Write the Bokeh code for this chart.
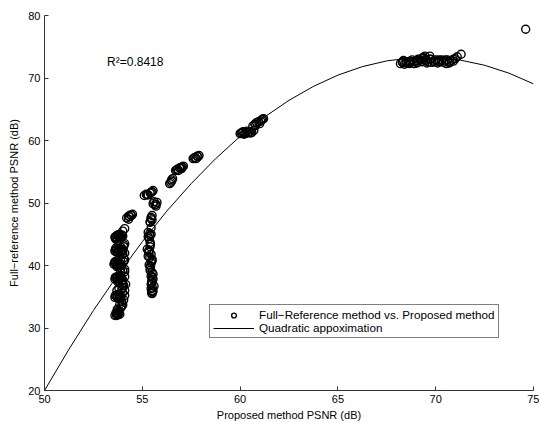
from bokeh.plotting import figure
from bokeh.models import Range1d, Label, Legend, LegendItem, FixedTicker
from bokeh.embed import file_html
from bokeh.resources import INLINE

# Scatter data: proposed method PSNR (x) vs full-reference PSNR (y)
proposed_psnr = [
    # cluster near 53.7
    53.6, 53.7, 53.8, 53.9, 54.0, 53.65, 53.85,
    53.6, 53.7, 53.8, 53.9, 54.0, 53.75, 53.65, 54.1,
    53.55, 53.65, 53.75, 53.85, 53.95, 54.05, 53.7, 54.1,
    53.6, 53.7, 53.8, 53.9, 54.0, 54.1, 53.75, 54.05,
    53.6, 53.7, 53.8, 53.9, 54.0, 54.1, 53.95,
    53.6, 53.7, 53.8, 53.9, 54.0, 53.75,
    54.1, 54.05, 54.1, 54.15, 54.1, 54.05, 54.0, 54.1, 54.0,
    53.65, 53.75, 53.85, 53.95, 53.7, 53.8, 53.9, 54.0, 53.6, 53.7,
    53.8, 53.9, 53.65, 53.75, 53.85, 53.95, 53.7, 53.8, 53.9, 53.65,
    53.75, 53.85, 53.7, 53.8, 53.9, 54.0, 54.05, 54.1, 53.95, 54.0,
    53.62, 53.72, 53.82, 53.92, 53.62, 53.72, 53.82, 53.92, 53.58, 53.68,
    53.78, 53.88, 53.62, 53.72, 53.82, 53.92, 53.62, 53.72, 53.82, 53.68,
    53.78, 53.72, 53.85, 53.95, 54.0, 53.9, 54.05,
    54.2, 54.3, 54.4, 54.5, 54.3, 54.35, 54.45,
    # cluster near 55.5
    55.5, 55.55, 55.45, 55.6, 55.5, 55.55, 55.45, 55.5, 55.4, 55.35,
    55.45, 55.5, 55.3, 55.35, 55.25, 55.4, 55.35, 55.4, 55.3, 55.45,
    55.4, 55.5, 55.45, 55.65, 55.75, 55.7,
    55.5, 55.45, 55.55, 55.4, 55.5, 55.45, 55.4, 55.35, 55.45, 55.3,
    55.4, 55.5, 55.55, 55.6, 55.5,
    55.48, 55.52, 55.48, 55.52, 55.42, 55.48, 55.38, 55.32, 55.42, 55.38,
    55.45, 55.7,
    55.1, 55.2, 55.3, 55.4, 55.5, 55.55, 55.25, 55.45,
    # rising groups
    56.4, 56.5, 56.55, 56.45, 56.5,
    56.7, 56.8, 56.9, 57.0, 57.1, 56.85, 57.0, 56.75, 56.95, 57.05,
    57.6, 57.7, 57.8, 57.9, 57.75, 57.65, 57.85,
    60.0, 60.1, 60.2, 60.3, 60.4, 60.5, 60.6, 60.7, 60.35, 60.15,
    60.05, 60.25, 60.45, 60.55,
    60.65, 60.75, 60.85, 60.95, 61.0, 61.1, 61.2, 61.05, 60.8, 61.15,
    # cluster near 70
    68.2, 68.3, 68.4, 68.5, 68.6, 68.7, 68.8, 68.9, 69.0, 69.1,
    69.2, 69.3, 69.4, 69.5, 69.6, 69.7, 69.8, 69.9, 70.0, 70.1,
    70.2, 70.3, 70.4, 70.5, 70.6, 70.7, 70.8, 70.9, 71.0, 71.1,
    71.3, 68.35, 68.65, 69.05, 69.45, 69.75, 70.15, 70.55,
    68.3, 68.5, 68.7, 68.9, 69.1, 69.3, 69.5, 69.7, 69.9, 70.1,
    70.3, 70.5, 70.7, 70.9, 69.35, 69.55,
    # outlier
    74.6,
]
fullref_psnr = [
    44.5, 44.8, 44.6, 44.4, 44.7, 44.2, 45.0,
    42.3, 42.6, 42.4, 42.2, 42.6, 42.0, 42.8, 42.0,
    40.2, 40.5, 40.1, 40.4, 40.0, 40.6, 39.8, 39.4,
    37.8, 38.2, 37.9, 38.4, 37.7, 38.2, 37.4, 36.8,
    34.9, 35.3, 34.7, 35.1, 35.6, 36.0, 34.2,
    32.0, 32.3, 32.6, 33.2, 33.7, 32.1,
    43.5, 41.2, 39.0, 37.0, 35.2, 34.5, 41.8, 45.9, 45.5,
    44.3, 44.9, 44.5, 44.9, 42.1, 42.5, 42.9, 42.3, 40.6, 40.0,
    40.3, 40.7, 38.0, 37.6, 38.1, 37.5, 35.0, 35.4, 34.8, 32.4,
    32.8, 32.2, 36.0, 36.4, 39.0, 39.2, 43.0, 40.9, 33.5, 36.5,
    44.6, 44.4, 44.9, 44.6, 42.5, 42.2, 42.7, 42.5, 40.4, 40.2,
    40.5, 40.2, 38.1, 37.9, 38.3, 38.0, 35.2, 34.9, 35.1, 32.0,
    32.3, 33.0, 33.8, 36.2, 37.2, 39.6, 43.3,
    47.6, 47.9, 48.1, 48.2, 47.4, 47.8, 48.0,
    35.5, 35.9, 36.3, 36.7, 37.2, 37.8, 38.3, 38.9, 39.6, 40.1,
    40.4, 40.8, 41.5, 42.1, 42.6, 43.0, 44.3, 44.8, 45.3, 45.0,
    46.9, 47.3, 47.7, 49.7, 50.1, 49.5,
    36.0, 37.0, 38.6, 39.2, 41.0, 41.8, 43.7, 42.4, 46.0, 44.6,
    47.0, 48.0, 49.9, 50.2, 35.8,
    35.6, 36.4, 37.5, 38.1, 39.9, 40.6, 41.3, 42.3, 43.4, 45.1,
    47.5, 49.8,
    51.2, 51.4, 51.3, 51.6, 51.8, 52.0, 51.3, 51.7,
    53.1, 53.5, 53.9, 53.3, 53.7,
    55.2, 55.4, 55.6, 55.7, 55.9, 55.2, 55.5, 55.3, 55.6, 55.8,
    57.1, 57.3, 57.5, 57.6, 57.1, 57.2, 57.4,
    61.1, 61.2, 61.0, 61.3, 61.2, 61.4, 61.3, 61.6, 61.5, 61.4,
    61.2, 61.1, 61.3, 61.2,
    62.3, 62.6, 62.9, 63.0, 62.7, 63.3, 63.5, 63.1, 62.4, 63.4,
    72.3, 72.5, 72.2, 72.6, 72.4, 72.7, 72.9, 72.6, 72.8, 73.0,
    72.9, 73.1, 73.2, 72.8, 72.6, 73.5, 72.5, 72.7, 72.9, 72.4,
    72.6, 72.8, 72.5, 72.7, 72.9, 72.6, 72.8, 73.0, 73.1, 73.4,
    73.8, 72.8, 72.3, 72.4, 73.5, 73.0, 72.9, 72.3,
    72.6, 72.4, 72.5, 72.3, 72.7, 72.6, 73.0, 73.0, 72.6, 72.7,
    72.9, 72.9, 72.4, 72.7, 73.3, 72.4,
    77.8,
]

# Quadratic approximation curve
curve_x = [50, 51.25, 52.5, 53.75, 55, 56.25, 57.5, 58.75, 60, 61.25, 62.5,
           63.75, 65, 66.25, 67.5, 68.75, 70, 71.25, 72.5, 73.75, 75]
curve_y = [20.0, 26.6, 32.8, 38.5, 43.8, 48.7, 53.1, 57.1, 60.65, 63.76, 66.43,
           68.66, 70.46, 71.82, 72.74, 73.22, 73.27, 72.87, 72.04, 70.77, 69.06]

x_ticks = [50, 55, 60, 65, 70, 75]
y_ticks = [20, 30, 40, 50, 60, 70, 80]
r2_text = "R²=0.8418"

FONT = "Liberation Sans"

p = figure(width=539, height=423, output_backend="svg", toolbar_location=None,
           x_range=Range1d(50, 75), y_range=Range1d(20, 80),
           min_border_left=44, min_border_right=6, min_border_top=15, min_border_bottom=33)
p.outline_line_color = None
p.grid.visible = False
p.background_fill_color = "white"
p.border_fill_color = "white"

scat = p.scatter(proposed_psnr, fullref_psnr, marker="circle", size=8,
                 fill_alpha=0, line_color="black", line_width=1.4)
curve = p.line(curve_x, curve_y, line_color="black", line_width=1)

for ax in (p.xaxis[0], p.yaxis[0]):
    ax.major_tick_in = 4
    ax.major_tick_out = 0
    ax.minor_tick_line_color = None
    ax.axis_line_color = "#333333"
    ax.major_tick_line_color = "#333333"
    ax.major_label_text_font = FONT
    ax.major_label_text_font_size = "11px"
    ax.major_label_text_color = "black"
    ax.axis_label_text_font = FONT
    ax.axis_label_text_font_size = "11px"
    ax.axis_label_text_font_style = "normal"
    ax.axis_label_text_color = "black"

p.xaxis[0].ticker = FixedTicker(ticks=x_ticks)
p.yaxis[0].ticker = FixedTicker(ticks=y_ticks)
p.xaxis[0].major_label_standoff = 4
p.xaxis[0].axis_label_standoff = 3
p.yaxis[0].major_label_standoff = 4
p.yaxis[0].axis_label_standoff = 5
p.xaxis[0].axis_label = "Proposed method PSNR (dB)"
p.yaxis[0].axis_label = "Full−reference method PSNR (dB)"

p.add_layout(Label(x=53.2, y=72.5, text=r2_text, text_font=FONT,
                   text_font_size="12px", text_color="black",
                   text_baseline="alphabetic"))

legend = Legend(items=[
    LegendItem(label="Full−Reference method vs. Proposed method", renderers=[scat]),
    LegendItem(label="Quadratic appoximation", renderers=[curve]),
], location=(165, 52))
legend.label_text_font = FONT
legend.label_text_font_size = "11.7px"
legend.label_text_color = "black"
legend.border_line_color = "black"
legend.border_line_width = 1
legend.background_fill_color = "white"
legend.background_fill_alpha = 1
legend.padding = 3
legend.spacing = 0
legend.margin = 0
legend.glyph_height = 12
legend.label_height = 12
legend.glyph_width = 41
legend.label_standoff = 5
p.add_layout(legend)

open("out.html", "w").write(file_html(p, INLINE))
